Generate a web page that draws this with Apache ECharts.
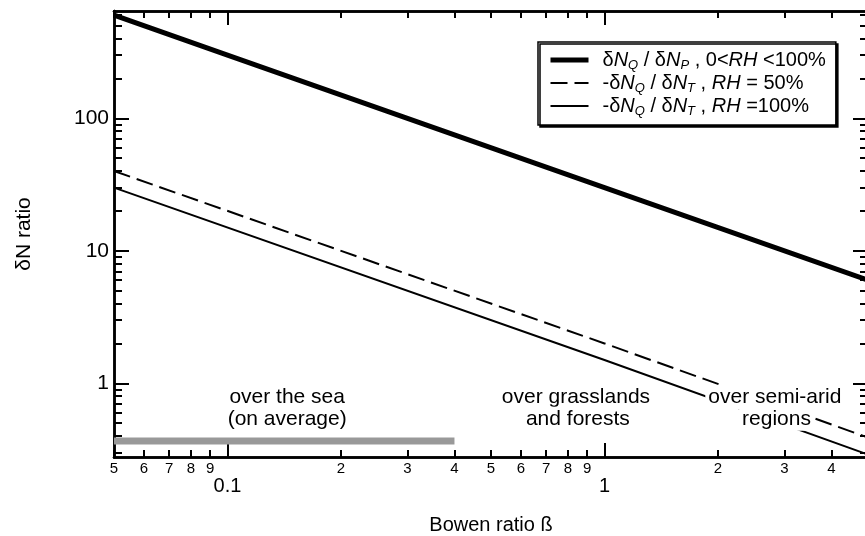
<!DOCTYPE html>
<html>
<head>
<meta charset="utf-8">
<script src="https://cdn.jsdelivr.net/npm/echarts@6/dist/echarts.min.js"></script>
<style>
  html, body { margin: 0; padding: 0; background: #fff; }
  #chart { width: 865px; height: 536px; }
</style>
</head>
<body>
<div id="chart"></div>
<script>
const FONT = '"Liberation Sans", Arial, Helvetica, sans-serif';

// Bowen ratio (x) and δN ratio (y)
const thickBeta = [0.05, 0.1, 1, 5];
const thickRatio = [600, 300, 30, 6];
const dashBeta = [0.05, 1, 5];
const dashRatio = [40, 2, 0.39];
const thinBeta = [0.05, 1, 5];
const thinRatio = [30, 1.5, 0.29];

const seriesNames = [
  'δNQ / δNP , 0<RH <100%',
  '-δNQ / δNT , RH = 50%',
  '-δNQ / δNT , RH =100%'
];
const legendRich = [
  '{f|δ}{i|N}{s|Q}{r| / δ}{i|N}{s|P}{r| , 0<}{i|RH}{r| <100%}',
  '{f|-δ}{i|N}{s|Q}{r| / δ}{i|N}{s|T}{r| , }{i|RH}{r| = 50%}',
  '{f|-δ}{i|N}{s|Q}{r| / δ}{i|N}{s|T}{r| , }{i|RH}{r| =100%}'
];

// axis ranges and ticks
const xRange = [0.05, 5];
const yRange = [0.278, 645];
const xMajorTicks = [0.1, 1];
const xMajorLabels = ['0.1', '1'];
const xMinorTicks = [0.05, 0.06, 0.07, 0.08, 0.09, 0.2, 0.3, 0.4, 0.5, 0.6, 0.7, 0.8, 0.9, 2, 3, 4];
const xMinorLabels = ['5', '6', '7', '8', '9', '2', '3', '4', '5', '6', '7', '8', '9', '2', '3', '4'];
const yMajorTicks = [1, 10, 100];
const yMajorLabels = ['1', '10', '100'];
const yMinorTicks = [0.3, 0.4, 0.5, 0.6, 0.7, 0.8, 0.9, 2, 3, 4, 5, 6, 7, 8, 9,
  20, 30, 40, 50, 60, 70, 80, 90, 200, 300, 400, 500, 600];

// region annotations
const regionLabels = ['over the sea', '(on average)', 'over grasslands', 'and forests', 'over semi-arid', 'regions'];
const regionBeta = [0.144, 0.144, 0.84, 0.85, 2.83, 2.86];
const regionRatio = [0.79, 0.54, 0.79, 0.54, 0.79, 0.54];
const seaBandBeta = [0.05, 0.4];
const seaBandRatio = [0.345, 0.39];

function pairs(xs, ys) { return xs.map((x, i) => [x, ys[i]]); }
function lookup(ticks, labels) {
  return function (v) {
    let best = 0, d = Infinity;
    ticks.forEach((t, i) => {
      const dd = Math.abs(Math.log(v) - Math.log(t));
      if (dd < d) { d = dd; best = i; }
    });
    return d < 1e-3 ? labels[best] : '';
  };
}

const AXIS_LINE = { show: true, lineStyle: { color: '#000', width: 2.5 } };
function axis(pos, range, ticks, len, labelCfg, extra) {
  return Object.assign({
    type: 'log', logBase: 10, position: pos, min: range[0], max: range[1],
    axisLine: AXIS_LINE,
    axisTick: { show: true, inside: true, length: len, customValues: ticks,
      lineStyle: { color: '#000', width: 2 } },
    axisLabel: labelCfg ? Object.assign({ customValues: ticks, color: '#000', fontFamily: FONT,
      showMinLabel: true, showMaxLabel: true }, labelCfg) : { show: false },
    splitLine: { show: false },
    minorTick: { show: false }
  }, extra || {});
}

const chart = echarts.init(document.getElementById('chart'), null, { renderer: 'canvas' });

const option = {
  backgroundColor: '#fff',
  animation: false,
  grid: { left: 114, top: 11, width: 754, height: 446, containLabel: false, outerBoundsMode: 'none' },
  xAxis: [
    axis('bottom', xRange, xMajorTicks, 14,
      { fontSize: 20, margin: 19, formatter: lookup(xMajorTicks, xMajorLabels) },
      { name: 'Bowen ratio ß', nameLocation: 'middle', nameGap: 58,
        nameTextStyle: { fontSize: 20, color: '#000', fontFamily: FONT } }),
    axis('bottom', xRange, xMinorTicks, 7,
      { fontSize: 15, margin: 4, formatter: lookup(xMinorTicks, xMinorLabels) }),
    axis('top', xRange, xMajorTicks, 14, null),
    axis('top', xRange, xMinorTicks, 7, null)
  ],
  yAxis: [
    axis('left', yRange, yMajorTicks, 15,
      { fontSize: 21, margin: 5, formatter: lookup(yMajorTicks, yMajorLabels) },
      { name: 'δN ratio', nameLocation: 'middle', nameGap: 79,
        nameTextStyle: { fontSize: 21, color: '#000', fontFamily: FONT } }),
    axis('left', yRange, yMinorTicks, 8, null),
    axis('right', yRange, yMajorTicks, 15, null),
    axis('right', yRange, yMinorTicks, 8, null)
  ],
  legend: {
    orient: 'vertical', left: 538, top: 42,
    data: [
      { name: seriesNames[0], lineStyle: { width: 5 } },
      { name: seriesNames[1], lineStyle: { width: 2 } },
      { name: seriesNames[2], lineStyle: { width: 2 } }
    ],
    itemWidth: 38, itemHeight: 14, itemGap: 1,
    padding: [8, 10, 7, 10],
    backgroundColor: '#fff', borderColor: '#000', borderWidth: 1.5,
    shadowColor: '#000', shadowOffsetX: 2, shadowOffsetY: 2, shadowBlur: 0,
    itemStyle: { opacity: 0 },
    formatter: name => legendRich[seriesNames.indexOf(name)],
    textStyle: {
      color: '#000', fontFamily: FONT, fontSize: 20,
      rich: {
        f: { fontSize: 20, fontFamily: FONT, color: '#000', lineHeight: 24, padding: [0, 0, 0, 9] },
        r: { fontSize: 20, fontFamily: FONT, color: '#000', lineHeight: 24 },
        i: { fontSize: 20, fontFamily: FONT, color: '#000', fontStyle: 'italic', lineHeight: 24 },
        s: { fontSize: 13, fontFamily: FONT, color: '#000', fontStyle: 'italic', lineHeight: 13, verticalAlign: 'bottom' }
      }
    }
  },
  series: [
    {
      name: seriesNames[0], type: 'line', xAxisIndex: 0, yAxisIndex: 0,
      data: pairs(thickBeta, thickRatio), symbol: 'none', z: 3,
      lineStyle: { color: '#000', width: 5 }, itemStyle: { color: '#000' }
    },
    {
      name: seriesNames[1], type: 'line', xAxisIndex: 0, yAxisIndex: 0,
      data: pairs(dashBeta, dashRatio), symbol: 'none', z: 3,
      lineStyle: { color: '#000', width: 2, type: [17, 7] }, itemStyle: { color: '#000' }
    },
    {
      name: seriesNames[2], type: 'line', xAxisIndex: 0, yAxisIndex: 0,
      data: pairs(thinBeta, thinRatio), symbol: 'none', z: 3,
      lineStyle: { color: '#000', width: 2 }, itemStyle: { color: '#000' }
    },
    {
      name: 'regions', type: 'scatter', xAxisIndex: 0, yAxisIndex: 0, z: 5,
      silent: true, symbolSize: 0, itemStyle: { color: '#fff', opacity: 1 },
      data: regionLabels.map((t, i) => ({ value: [regionBeta[i], regionRatio[i]], name: t })),
      label: {
        show: true, position: 'inside', formatter: p => p.name, opacity: 1,
        color: '#000', fontFamily: FONT, fontSize: 21, lineHeight: 22,
        textBorderWidth: 0, backgroundColor: '#fff', padding: [1, 3]
      },
      markArea: {
        silent: true,
        itemStyle: { color: '#999999' },
        data: [[{ coord: [seaBandBeta[0], seaBandRatio[0]] }, { coord: [seaBandBeta[1], seaBandRatio[1]] }]]
      }
    }
  ]
};
chart.setOption(option);
</script>
</body>
</html>
